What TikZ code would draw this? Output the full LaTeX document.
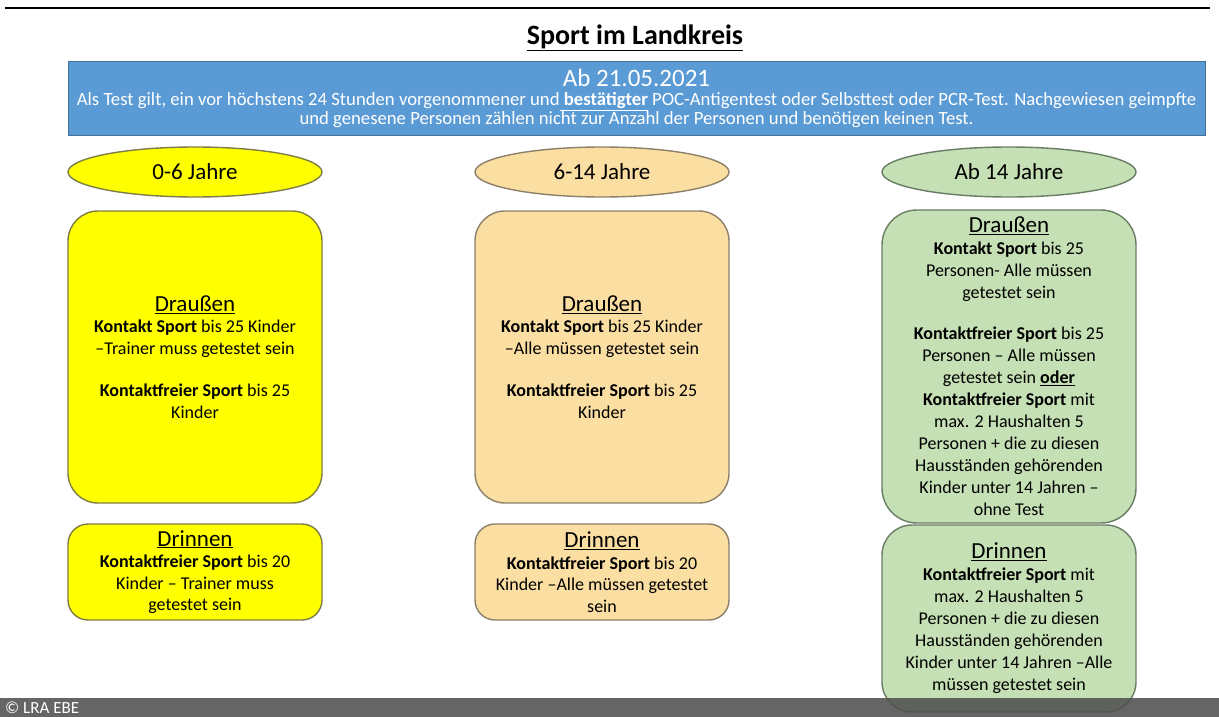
\documentclass[tikz,border=0pt]{standalone}
\usepackage{fontspec}
\setmainfont{Carlito}
\usetikzlibrary{shapes.geometric}
\definecolor{headblue}{RGB}{91,155,213}
\definecolor{headline}{RGB}{65,113,156}
\definecolor{kidyellow}{RGB}{255,255,0}
\definecolor{kidline}{RGB}{125,125,70}
\definecolor{teenorange}{RGB}{251,222,162}
\definecolor{teenline}{RGB}{140,128,105}
\definecolor{adultgreen}{RGB}{197,224,180}
\definecolor{adultline}{RGB}{105,125,100}
\definecolor{footgray}{RGB}{80,80,80}
\newcommand{\boxhead}[1]{{\fontsize{23}{25}\selectfont\underline{#1}}}

\begin{document}
\begin{tikzpicture}[x=1pt,y=-1pt,
  age/.style={draw, ellipse, line width=1.4pt, minimum width=254pt,
    minimum height=50pt, inner sep=0pt, font=\fontsize{23}{26}\selectfont},
  box/.style={draw, rounded corners=30pt, line width=1.4pt, minimum width=254pt,
    align=center, inner sep=0pt, font=\fontsize{18}{21.5}\selectfont},
  small/.style={box, rounded corners=20pt}]

  \useasboundingbox (0,0) rectangle (1219,717);
  \draw [line width=2.5pt] (5,8) -- (1210,8);

  \node (title) at (635,38) {\fontsize{28}{32}\selectfont\bfseries\underline{Sport im Landkreis}};

  \node [draw=headline, fill=headblue, text=white, line width=1pt,
    minimum width=1137pt, minimum height=73pt, inner sep=0pt, align=center]
    (info) at (636.5,98.5)
    {{\fontsize{25}{26}\selectfont Ab 21.05.2021}\\[4pt]
     \fontsize{18.7}{19}\selectfont Als Test gilt, ein vor höchstens 24 Stunden vorgenommener und\textbf{\underline{ bestätigter}} POC-Antigentest oder Selbsttest oder PCR-Test. Nachgewiesen geimpfte\\
     \fontsize{18.7}{19}\selectfont und genesene Personen zählen nicht zur Anzahl der Personen und benötigen keinen Test.};

  % age groups
  \node [age, fill=kidyellow,  draw=kidline]   (kids)   at (195,172)  {0-6 Jahre};
  \node [age, fill=teenorange, draw=teenline]  (teens)  at (602,172)  {6-14 Jahre};
  \node [age, fill=adultgreen, draw=adultline] (adults) at (1009,172) {Ab 14 Jahre};

  % outdoor
  \node [box, fill=kidyellow, draw=kidline, minimum height=292pt] (kidsOut) at (195,357)
    {\boxhead{Draußen}\\
     \textbf{Kontakt Sport} bis 25 Kinder\\
     --Trainer muss getestet sein\\[21pt]
     \textbf{Kontaktfreier Sport} bis 25\\
     Kinder};
  \node [box, fill=teenorange, draw=teenline, minimum height=292pt] (teensOut) at (602,357)
    {\boxhead{Draußen}\\
     \textbf{Kontakt Sport} bis 25 Kinder\\
     --Alle müssen getestet sein\\[21pt]
     \textbf{Kontaktfreier Sport} bis 25\\
     Kinder};
  \node [box, fill=adultgreen, draw=adultline, rounded corners=35pt, minimum height=313pt,
    font=\fontsize{18}{22}\selectfont] (adultsOut) at (1009,366.5)
    {\boxhead{Draußen}\\
     \textbf{Kontakt Sport} bis 25\\
     Personen- Alle müssen\\
     getestet sein\\[19pt]
     \textbf{Kontaktfreier Sport} bis 25\\
     Personen -- Alle müssen\\
     getestet sein \textbf{\underline{oder}}\\
     \textbf{Kontaktfreier Sport} mit\\
     max. 2 Haushalten 5\\
     Personen + die zu diesen\\
     Hausständen gehörenden\\
     Kinder unter 14 Jahren --\\
     ohne Test};

  % indoor
  \node [small, fill=kidyellow, draw=kidline, minimum height=96pt] (kidsIn) at (195,572)
    {\boxhead{Drinnen}\\
     \textbf{Kontaktfreier Sport} bis 20\\
     Kinder -- Trainer muss\\
     getestet sein};
  \node [small, fill=teenorange, draw=teenline, minimum height=96pt] (teensIn) at (602,572)
    {\boxhead{Drinnen}\\
     \textbf{Kontaktfreier Sport} bis 20\\
     Kinder --Alle müssen getestet\\
     sein};
  \node [box, fill=adultgreen, draw=adultline, minimum height=187pt,
    font=\fontsize{18}{22}\selectfont] (adultsIn) at (1009,618.5)
    {\boxhead{Drinnen}\\
     \textbf{Kontaktfreier Sport} mit\\
     max. 2 Haushalten 5\\
     Personen + die zu diesen\\
     Hausständen gehörenden\\
     Kinder unter 14 Jahren --Alle\\
     müssen getestet sein};

  % footer
  \fill [footgray, fill opacity=0.88] (0,698) rectangle (1219,717);
  \node [text=white, anchor=west, inner sep=0pt, font=\fontsize{17}{18}\selectfont]
    (credit) at (5,707.5) {© LRA EBE};
\end{tikzpicture}
\end{document}
